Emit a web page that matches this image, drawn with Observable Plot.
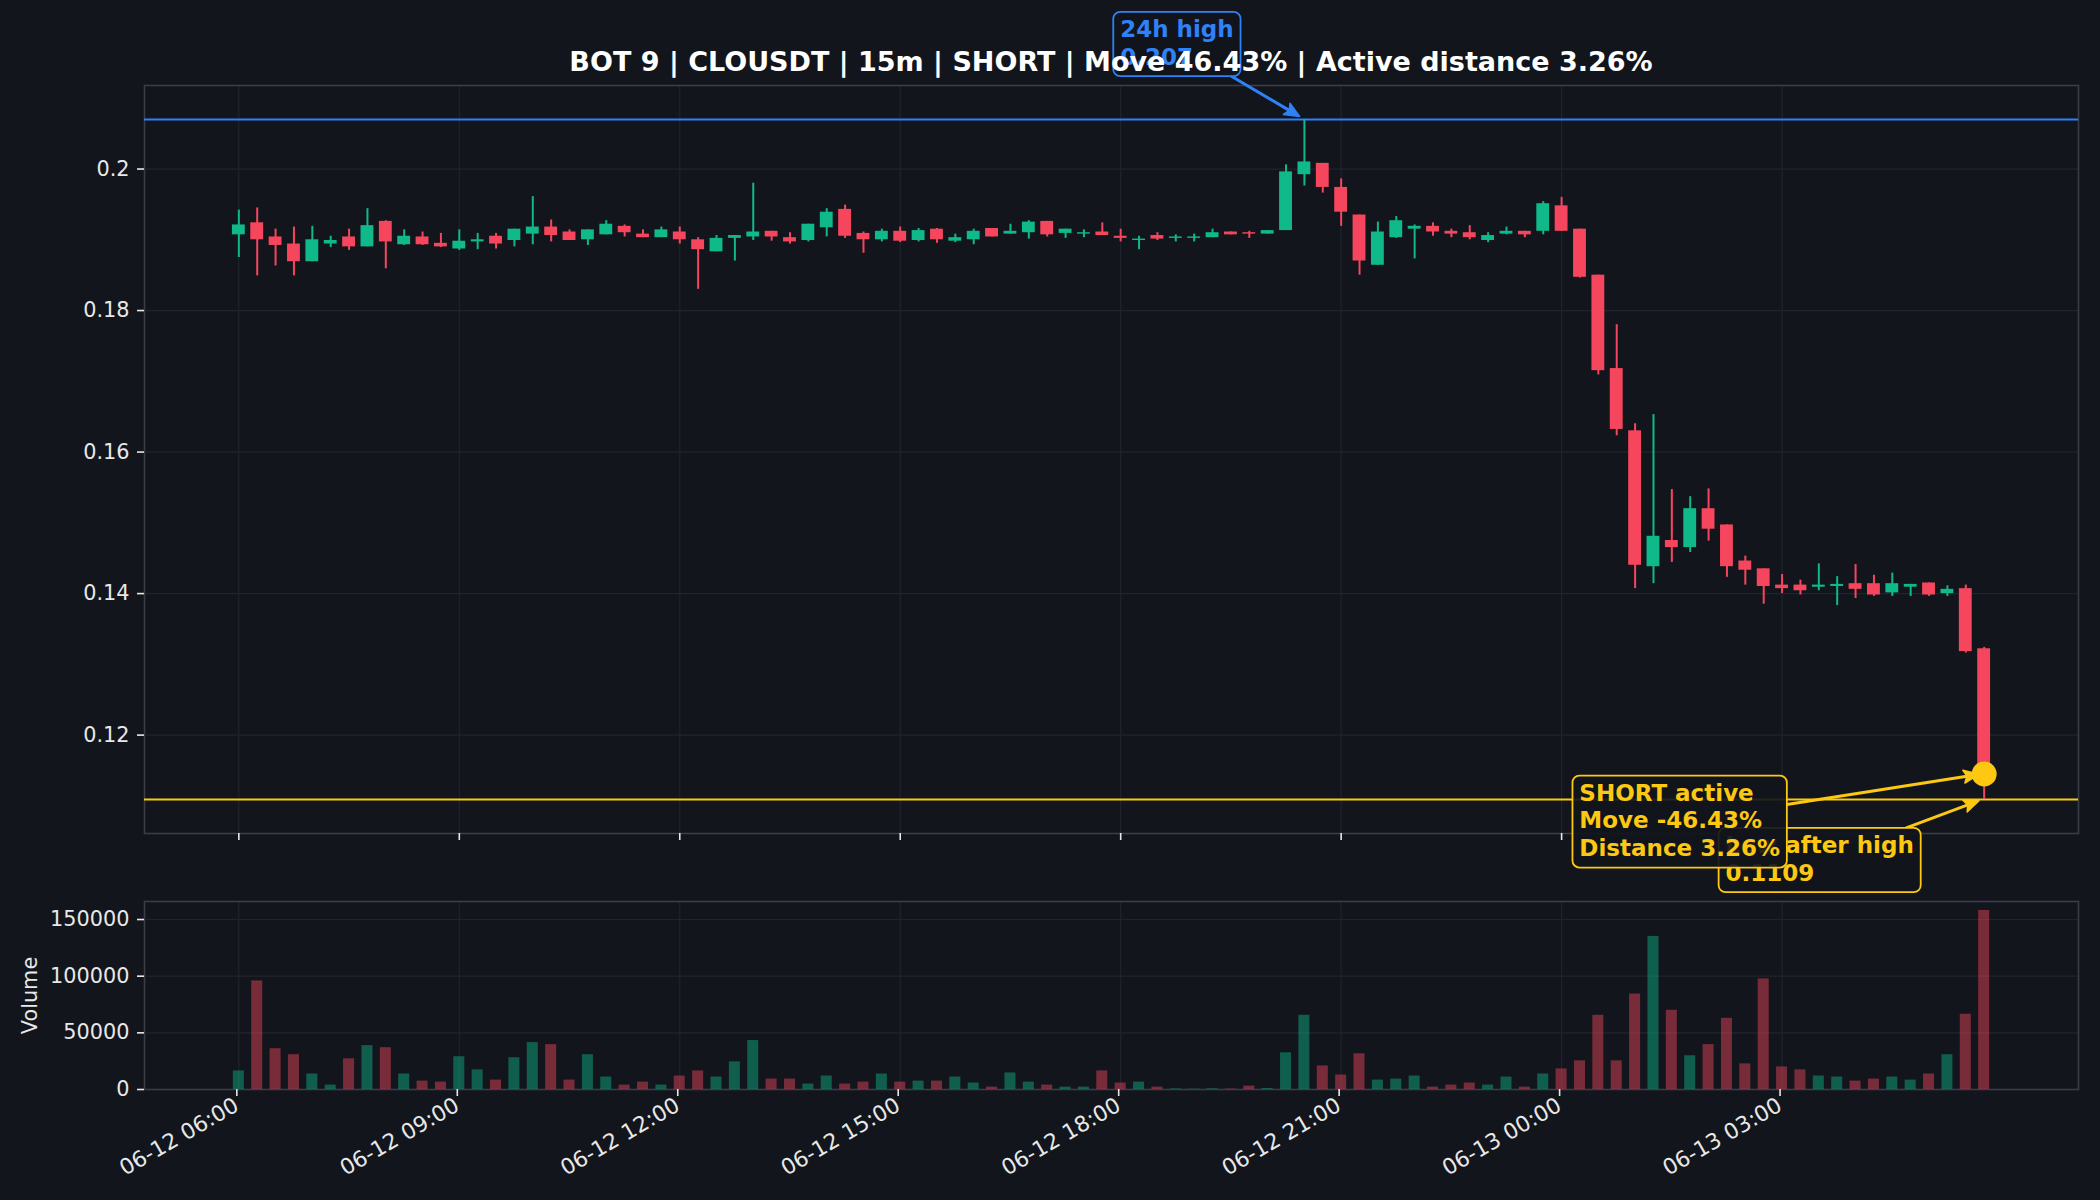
<!DOCTYPE html>
<html>
<head>
<meta charset="utf-8">
<script src="https://cdn.jsdelivr.net/npm/d3@7"></script>
<script src="https://cdn.jsdelivr.net/npm/@observablehq/plot@0.6"></script>
<style>
html, body { margin: 0; padding: 0; background: #12151c; }
#chart { position: relative; width: 2100px; height: 1200px; overflow: hidden; background: #12151c; font-family: "DejaVu Sans", sans-serif; }
#title { position: absolute; left: 144px; width: 1934px; top: 48px; text-align: center; font-weight: bold; font-size: 27px; line-height: 27px; color: #ffffff; z-index: 5; white-space: nowrap; }
#price { position: absolute; left: 0; top: 0; }
#volume { position: absolute; left: 0; top: 900px; }
</style>
</head>
<body>
<div id="chart"><div id="price"></div><div id="volume"></div><div id="title"></div></div>
<script>
// ---------------- data ----------------
const startTime = "2025-06-12T06:00:00Z";
const barMinutes = 15;

const open = [
  0.1907, 0.1924, 0.1904, 0.1894, 0.1869, 0.1894, 0.1904, 0.1890, 0.1926, 0.1893,
  0.1904, 0.1895, 0.1887, 0.1897, 0.1905, 0.1899, 0.1908, 0.1918, 0.1911, 0.1900,
  0.1907, 0.1919, 0.1908, 0.1903, 0.1911, 0.1900, 0.1883, 0.1902, 0.1904, 0.1912,
  0.1903, 0.1899, 0.1917, 0.1943, 0.1909, 0.1900, 0.1912, 0.1899, 0.1915, 0.1898,
  0.1900, 0.1916, 0.1908, 0.1910, 0.1926, 0.1909, 0.1908, 0.1911, 0.1905, 0.1899,
  0.1906, 0.1902, 0.1902, 0.1903, 0.1911, 0.1910, 0.1908, 0.1913, 0.1992, 0.2008,
  0.1974, 0.1935, 0.1864, 0.1903, 0.1915, 0.1919, 0.1912, 0.1910, 0.1899, 0.1908,
  0.1912, 0.1912, 0.1948, 0.1915, 0.1850, 0.1718, 0.1630, 0.1438, 0.1475, 0.1465,
  0.1520, 0.1497, 0.1446, 0.1435, 0.1412, 0.1412, 0.1409, 0.1410, 0.1414, 0.1414,
  0.1401, 0.1409, 0.1415, 0.1400, 0.1407, 0.1322
];
const high = [
  0.1942, 0.1945, 0.1915, 0.1918, 0.1919, 0.1905, 0.1915, 0.1944, 0.1927, 0.1914,
  0.1911, 0.1909, 0.1914, 0.1909, 0.1909, 0.1915, 0.1961, 0.1928, 0.1914, 0.1914,
  0.1927, 0.1921, 0.1914, 0.1918, 0.1918, 0.1903, 0.1906, 0.1906, 0.1980, 0.1912,
  0.1910, 0.1922, 0.1944, 0.1949, 0.1911, 0.1915, 0.1918, 0.1916, 0.1916, 0.1908,
  0.1915, 0.1916, 0.1922, 0.1927, 0.1926, 0.1915, 0.1914, 0.1924, 0.1915, 0.1905,
  0.1910, 0.1907, 0.1908, 0.1915, 0.1911, 0.1912, 0.1913, 0.2006, 0.2070, 0.2008,
  0.1986, 0.1935, 0.1925, 0.1933, 0.1921, 0.1924, 0.1915, 0.1920, 0.1910, 0.1918,
  0.1912, 0.1954, 0.1960, 0.1915, 0.1850, 0.1780, 0.1640, 0.1653, 0.1547, 0.1537,
  0.1548, 0.1497, 0.1453, 0.1435, 0.1427, 0.1419, 0.1442, 0.1424, 0.1441, 0.1426,
  0.1429, 0.1413, 0.1415, 0.1411, 0.1412, 0.1324
];
const low = [
  0.1875, 0.1849, 0.1863, 0.1849, 0.1869, 0.1889, 0.1885, 0.1890, 0.1859, 0.1892,
  0.1892, 0.1889, 0.1885, 0.1886, 0.1887, 0.1890, 0.1893, 0.1897, 0.1899, 0.1892,
  0.1907, 0.1904, 0.1903, 0.1903, 0.1894, 0.1830, 0.1883, 0.1870, 0.1899, 0.1898,
  0.1894, 0.1897, 0.1904, 0.1902, 0.1881, 0.1897, 0.1896, 0.1897, 0.1895, 0.1896,
  0.1893, 0.1904, 0.1908, 0.1901, 0.1904, 0.1902, 0.1903, 0.1906, 0.1897, 0.1886,
  0.1899, 0.1897, 0.1897, 0.1903, 0.1907, 0.1902, 0.1908, 0.1913, 0.1976, 0.1966,
  0.1919, 0.1850, 0.1864, 0.1902, 0.1873, 0.1905, 0.1903, 0.1900, 0.1896, 0.1907,
  0.1903, 0.1907, 0.1912, 0.1846, 0.1709, 0.1623, 0.1407, 0.1414, 0.1444, 0.1458,
  0.1474, 0.1423, 0.1412, 0.1385, 0.1400, 0.1398, 0.1404, 0.1383, 0.1393, 0.1396,
  0.1396, 0.1396, 0.1396, 0.1396, 0.1316, 0.1109
];
const close = [
  0.1921, 0.1900, 0.1892, 0.1869, 0.1900, 0.1899, 0.1890, 0.1920, 0.1897, 0.1905,
  0.1893, 0.1890, 0.1898, 0.1900, 0.1894, 0.1915, 0.1918, 0.1906, 0.1899, 0.1914,
  0.1922, 0.1910, 0.1903, 0.1914, 0.1900, 0.1886, 0.1902, 0.1906, 0.1911, 0.1904,
  0.1897, 0.1922, 0.1939, 0.1905, 0.1900, 0.1912, 0.1898, 0.1913, 0.1900, 0.1903,
  0.1912, 0.1904, 0.1912, 0.1925, 0.1907, 0.1915, 0.1910, 0.1906, 0.1902, 0.1901,
  0.1901, 0.1904, 0.1904, 0.1910, 0.1907, 0.1908, 0.1913, 0.1996, 0.2010, 0.1974,
  0.1939, 0.1870, 0.1911, 0.1927, 0.1919, 0.1911, 0.1908, 0.1903, 0.1906, 0.1912,
  0.1907, 0.1951, 0.1912, 0.1847, 0.1715, 0.1632, 0.1440, 0.1481, 0.1465, 0.1520,
  0.1491, 0.1438, 0.1433, 0.1410, 0.1407, 0.1404, 0.1412, 0.1413, 0.1406, 0.1398,
  0.1414, 0.1413, 0.1398, 0.1406, 0.1318, 0.1145
];
const volume = [
  16400, 95800, 36000, 30700, 13700, 3900, 27100, 38700, 36900, 13700,
  7400, 6500, 28900, 17300, 8300, 28000, 41400, 39600, 8300, 30700,
  11000, 3900, 6500, 3900, 11900, 16400, 11000, 24400, 43200, 9200,
  9200, 4800, 11900, 4800, 6500, 13700, 6500, 7400, 7400, 11000,
  5700, 2100, 14600, 6500, 3900, 2100, 2100, 16400, 5700, 6500,
  2100, 500, 300, 600, 400, 3000, 800, 32400, 65500, 20800,
  12800, 31500, 8300, 9200, 11900, 2100, 3900, 5700, 3900, 11000,
  2100, 13700, 18200, 25300, 65500, 25300, 84200, 135100, 69900, 29800,
  39600, 62800, 22600, 97600, 19900, 17300, 11900, 11000, 7400, 9200,
  11000, 8300, 13700, 30700, 66400, 158000
];

const xTickLabels = ["06-12 06:00", "06-12 09:00", "06-12 12:00", "06-12 15:00",
                     "06-12 18:00", "06-12 21:00", "06-13 00:00", "06-13 03:00"];
const yTicksPrice = [0.12, 0.14, 0.16, 0.18, 0.2];
const yTicksVolume = [0, 50000, 100000, 150000];

const titleText = "BOT 9 | CLOUSDT | 15m | SHORT | Move 46.43% | Active distance 3.26%";
const high24 = 0.207;
const lowAfterHigh = 0.1109;
const highLines = ["24h high", "0.207"];
const shortLines = ["SHORT active", "Move -46.43%", "Distance 3.26%"];
const lowLines = ["Low after high", "0.1109"];

// ---------------- styles ----------------
const BG = "#12151c";
const GREEN = "#0fb98a";
const RED = "#f6465d";
const BLUE = "#2f81f7";
const YELLOW = "#fcc812";
const GRID = "#20242c";
const SPINE = "#3a3e48";
const TEXT = "#e8e8e8";
const FONT = "DejaVu Sans";

// ---------------- derived ----------------
const barMs = barMinutes * 60000;
const t0 = new Date(startTime);
const times = open.map((_, i) => new Date(+t0 + i * barMs));
const candles = open.map((o, i) => ({
  t: times[i], open: o, high: high[i], low: low[i], close: close[i],
  volume: volume[i], up: close[i] >= o
}));
const year = t0.getUTCFullYear();
const tickDates = xTickLabels.map(s => {
  const [md, hm] = s.split(" ");
  return new Date(`${year}-${md}T${hm}:00Z`);
});
const bodyHalf = 0.35 * barMs;
const volHalf = 0.30 * barMs;
const xSpan = (+times[times.length - 1] + bodyHalf) - (+times[0] - bodyHalf);
const xDomain = [new Date(+times[0] - bodyHalf - 0.05 * xSpan),
                 new Date(+times[times.length - 1] + bodyHalf + 0.05 * xSpan)];
const pMin = d3.min(low), pMax = d3.max(high);
const yDomain = [pMin - 0.05 * (pMax - pMin), pMax + 0.05 * (pMax - pMin)];
const vDomain = [0, d3.max(volume) * 1.05];
const last = candles.length - 1;
const hiIdx = d3.maxIndex(high);

const baseStyle = { background: "transparent", color: TEXT, fontFamily: FONT, fontSize: "20.8px", overflow: "visible" };

// custom annotation mark (box + arrow), like matplotlib annotate
function annotations(specs) {
  return (index, scales) => {
    const g = d3.create("svg:g");
    const ctx = document.createElement("canvas").getContext("2d");
    for (const s of specs) {
      const fs = 23, pad = 0.3 * fs, lh = 1.2 * fs;
      ctx.font = `bold ${fs}px "${FONT}"`;
      const tw = d3.max(s.lines, l => ctx.measureText(l).width);
      const bw = tw + 2 * pad, bh = (s.lines.length - 1) * lh + fs + 2 * pad;
      const tx = scales.x(s.x), ty = scales.y(s.y);
      const cx = tx + s.dx, cy = ty + s.dy;
      const bx = cx - bw / 2, by = cy - bh / 2;
      const vx = tx - cx, vy = ty - cy, len = Math.hypot(vx, vy);
      const ux = vx / len, uy = vy / len;
      const k = Math.min(ux ? (bw / 2) / Math.abs(ux) : Infinity, uy ? (bh / 2) / Math.abs(uy) : Infinity);
      const sx = cx + ux * k, sy = cy + uy * k;
      const ex = tx - ux * 5, ey = ty - uy * 5;
      const hl = 15, hw = 6.5, nx = -uy, ny = ux;
      const bxh = ex - ux * hl, byh = ey - uy * hl;
      g.append("path")
        .attr("d", `M${sx},${sy}L${bxh + ux * 3},${byh + uy * 3}`)
        .attr("fill", "none").attr("stroke", s.color).attr("stroke-width", 3)
        .attr("stroke-linecap", "round");
      g.append("path")
        .attr("d", `M${ex},${ey}L${bxh + nx * hw},${byh + ny * hw}L${bxh + ux * 3},${byh + uy * 3}L${bxh - nx * hw},${byh - ny * hw}Z`)
        .attr("fill", s.color).attr("stroke", s.color).attr("stroke-width", 1.5)
        .attr("stroke-linejoin", "round");
      g.append("rect")
        .attr("x", bx).attr("y", by).attr("width", bw).attr("height", bh)
        .attr("rx", pad).attr("ry", pad)
        .attr("fill", BG).attr("fill-opacity", 0.92)
        .attr("stroke", s.color).attr("stroke-width", 1.8);
      const text = g.append("text")
        .attr("fill", s.color).attr("font-weight", "bold")
        .attr("font-size", fs).attr("font-family", FONT)
        .attr("text-anchor", "start");
      s.lines.forEach((l, j) => text.append("tspan")
        .attr("x", bx + pad).attr("y", by + pad + 0.8 * fs + j * lh).text(l));
    }
    return g.node();
  };
}

// ---------------- price panel ----------------
const price = Plot.plot({
  width: 2100, height: 900,
  marginLeft: 144, marginRight: 22, marginTop: 85, marginBottom: 67,
  style: baseStyle,
  x: { type: "utc", domain: xDomain },
  y: { domain: yDomain },
  marks: [
    Plot.gridX(tickDates, { stroke: GRID, strokeOpacity: 1, strokeWidth: 1.2 }),
    Plot.gridY(yTicksPrice, { stroke: GRID, strokeOpacity: 1, strokeWidth: 1.2 }),
    Plot.frame({ stroke: SPINE, strokeWidth: 1.6 }),
    Plot.axisY(yTicksPrice, { tickFormat: d3.format("~g"), tickSize: 7, tickPadding: 8, label: null, stroke: TEXT, fill: TEXT, strokeWidth: 1.6 }),
    Plot.axisX(tickDates, { tickFormat: () => "", tickSize: 7, label: null, stroke: TEXT, strokeWidth: 1.6 }),
    Plot.ruleY([high24], { stroke: BLUE, strokeWidth: 2.2 }),
    Plot.ruleY([lowAfterHigh], { stroke: YELLOW, strokeWidth: 2.2 }),
    Plot.ruleX(candles, { x: "t", y1: "low", y2: "high", stroke: d => d.up ? GREEN : RED, strokeWidth: 2 }),
    Plot.rect(candles, {
      x1: d => new Date(+d.t - bodyHalf), x2: d => new Date(+d.t + bodyHalf),
      y1: "open", y2: "close", fill: d => d.up ? GREEN : RED
    }),
    Plot.dot([candles[last]], { x: "t", y: "close", r: 12.5, fill: YELLOW, stroke: "none" }),
    annotations([
      { lines: lowLines, x: candles[last].t, y: lowAfterHigh, dx: -164, dy: 61, color: YELLOW },
      { lines: shortLines, x: candles[last].t, y: candles[last].close, dx: -304, dy: 48, color: YELLOW },
      { lines: highLines, x: candles[hiIdx].t, y: high24, dx: -127, dy: -75, color: BLUE }
    ])
  ]
});
document.getElementById("price").append(price);

// ---------------- volume panel ----------------
const vol = Plot.plot({
  width: 2100, height: 300,
  marginLeft: 144, marginRight: 22, marginTop: 1, marginBottom: 111,
  style: baseStyle,
  x: { type: "utc", domain: xDomain },
  y: { domain: vDomain },
  marks: [
    Plot.gridX(tickDates, { stroke: GRID, strokeOpacity: 1, strokeWidth: 1.2 }),
    Plot.gridY(yTicksVolume.slice(1), { stroke: GRID, strokeOpacity: 1, strokeWidth: 1.2 }),
    Plot.frame({ stroke: SPINE, strokeWidth: 1.6 }),
    Plot.rect(candles, {
      x1: d => new Date(+d.t - volHalf), x2: d => new Date(+d.t + volHalf),
      y1: 0, y2: "volume", fill: d => d.up ? GREEN : RED, fillOpacity: 0.45
    }),
    Plot.axisY(yTicksVolume, { tickFormat: d3.format("d"), tickSize: 7, tickPadding: 8, stroke: TEXT, fill: TEXT, strokeWidth: 1.6,
      label: "Volume", labelAnchor: "center", labelArrow: "none", labelOffset: 122 }),
    Plot.axisX(tickDates, { tickFormat: d3.utcFormat("%m-%d %H:%M"), tickSize: 7, tickPadding: 7, tickRotate: -30,
      fontSize: "21.8px", dx: -2, label: null, stroke: TEXT, fill: TEXT, strokeWidth: 1.6 })
  ]
});
document.getElementById("volume").append(vol);

document.getElementById("title").textContent = titleText;
</script>
</body>
</html>
